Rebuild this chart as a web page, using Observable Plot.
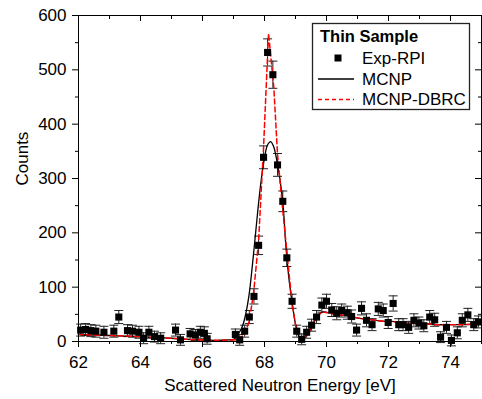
<!DOCTYPE html>
<html><head><meta charset="utf-8">
<script src="https://cdn.jsdelivr.net/npm/d3@7"></script>
<script src="https://cdn.jsdelivr.net/npm/@observablehq/plot@0.6"></script>
<style>
body{margin:0;background:#fff;}
#wrap{position:relative;width:482px;height:399px;font-family:"Liberation Sans",Arial,sans-serif;}
</style></head><body><div id="wrap"></div>
<script>
// Experimental data (Exp-RPI)
const expEnergy = [62.07,62.23,62.40,62.56,62.82,63.14,63.30,63.58,63.74,63.95,64.10,64.27,64.45,64.65,65.13,65.29,65.60,65.77,65.93,66.06,66.15,
  67.06,67.20,67.36,67.51,67.66,67.81,67.97,68.10,68.27,68.42,68.59,68.72,68.89,69.04,69.20,69.36,69.52,69.68,69.85,70.00,70.17,70.33,70.49,70.67,70.81,70.97,
  71.13,71.29,71.47,71.67,71.83,71.99,72.15,72.33,72.47,72.65,72.82,72.98,73.14,73.33,73.49,73.68,73.87,74.03,74.22,74.38,74.56,74.75,74.90];
const expCounts = [21,22,20,19,17,19,45,20,19,17,6,17,9,6,21,3,14,12,17,15,5,
  13,3,19,45,83,177,339,532,491,325,258,154,74,19,4,17,30,45,67,74,58,52,57,53,46,21,
  61,39,31,60,57,35,70,31,31,26,39,34,29,45,40,8,26,2,16,39,49,31,36];
const expError = [11,11,11,11,11,11,12,11,11,11,10,11,10,10,11,10,10,10,11,12,10,
  10,10,11,12,14,17,21,25,25,21,19,16,13,11,10,11,11,12,13,13,12,12,12,12,12,11,
  12,12,11,12,12,11,14,11,11,11,12,11,11,12,12,10,11,10,11,12,12,11,11];
// MCNP simulation
const mcnpEnergy = [62.0,62.5,63.0,63.5,64.0,64.5,65.0,65.5,66.0,66.5,66.8,67.0,67.1,67.2,67.3,67.4,67.5,67.6,67.7,67.8,67.9,68.0,68.1,68.2,68.3,68.4,68.5,68.6,68.7,68.8,68.9,69.0,69.1,69.2,69.36,69.52,69.68,69.85,70.06,70.33,70.6,70.86,71.13,71.45,71.88,72.1,72.52,72.95,73.49,73.92,74.35,74.88,75.0];
const mcnpCounts = [13,12,11,10,9,7,6,4,3,2,3,4,9,18,30,52,85,135,192,250,300,338,362,368,358,332,298,250,168,110,68,32,11,4,11,26,45,54,53,49,48,45,42,40,37,37,34,34,31,31,31,32,32];
// MCNP-DBRC simulation
const dbrcEnergy = [62.0,62.5,63.0,63.5,64.0,64.5,65.0,65.5,66.0,66.5,67.0,67.2,67.36,67.51,67.65,67.81,67.97,68.13,68.30,68.42,68.58,68.74,68.88,69.04,69.2,69.36,69.52,69.68,69.85,70.06,70.33,70.6,70.86,71.13,71.45,71.88,72.1,72.52,72.95,73.49,73.92,74.35,74.88,75.0];
const dbrcCounts = [13,12,11,10,9,7,6,4,3,2,3,6,14,38,90,186,358,567,468,345,247,155,75,16,3,11,26,45,54,53,49,48,45,42,40,37,37,34,34,31,31,31,32,32];
// Axis ticks and labels
const xMajorTicks = [62,64,66,68,70,72,74];
const xMinorTicks = [63,65,67,69,71,73,75];
const yMajorTicks = [0,100,200,300,400,500,600];
const yMinorTicks = [50,150,250,350,450,550];
const xLabel = "Scattered Neutron Energy [eV]";
const yLabel = "Counts";
const legendTitle = "Thin Sample";
const legendLabels = ["Exp-RPI","MCNP","MCNP-DBRC"];

const exp = expEnergy.map((e,i)=>({e, c: expCounts[i], err: expError[i]}));
const mcnp = mcnpEnergy.map((e,i)=>({e, c: mcnpCounts[i]}));
const dbrc = dbrcEnergy.map((e,i)=>({e, c: dbrcCounts[i]}));

const W=482, H=399, mL=78, mR=1, mT=15, mB=58;
const innerW = W-mL-mR, innerH = H-mT-mB;
const capSymbol = {draw(ctx, size){const w = Math.sqrt(size/Math.PI); ctx.moveTo(-w,0); ctx.lineTo(w,0);}};
const font = "Liberation Sans, Arial, sans-serif";
const fs = 17;

const chart = Plot.plot({
  width: W, height: H, marginLeft: mL, marginRight: mR, marginTop: mT, marginBottom: mB,
  style: {fontFamily: font, fontSize: fs + "px", color: "#000", background: "#fff", overflow: "visible"},
  x: {domain: [62, 75], axis: null},
  y: {domain: [0, 600], axis: null},
  marks: [
    Plot.ruleX(exp, {x: "e", y1: d=>d.c-d.err, y2: d=>d.c+d.err, stroke: "#222", strokeWidth: 1}),
    Plot.dot(exp, {x: "e", y: d=>d.c+d.err, symbol: capSymbol, r: 4.5, stroke: "#222", fill: "none", strokeWidth: 1}),
    Plot.dot(exp, {x: "e", y: d=>d.c-d.err, symbol: capSymbol, r: 4.5, stroke: "#222", fill: "none", strokeWidth: 1}),
    Plot.line(mcnp, {x: "e", y: "c", stroke: "#000", strokeWidth: 1.3, curve: "catmull-rom"}),
    Plot.line(dbrc, {x: "e", y: "c", stroke: "#ff0000", strokeWidth: 1.5, strokeDasharray: "5,3"}),
    Plot.dot(exp, {x: "e", y: "c", symbol: "square", r: 4, fill: "#000", stroke: "none"}),
    Plot.frame({stroke: "#000", strokeWidth: 1}),
    Plot.axisX({ticks: xMajorTicks, tickSize: 6, tickPadding: 8, fontSize: fs, label: null}),
    Plot.axisX({ticks: xMinorTicks, tickSize: 3, tickFormat: () => "", label: null}),
    Plot.axisY({ticks: yMajorTicks, tickSize: 6, tickPadding: 6, fontSize: fs, label: null}),
    Plot.axisY({ticks: yMinorTicks, tickSize: 3, tickFormat: () => "", label: null}),
    Plot.ruleX(xMajorTicks, {x: d=>d, insetBottom: innerH-6, stroke: "#000"}),
    Plot.ruleX(xMinorTicks, {x: d=>d, insetBottom: innerH-4, stroke: "#000"}),
    Plot.ruleY(yMajorTicks, {y: d=>d, insetLeft: innerW-6, stroke: "#000"}),
    Plot.ruleY(yMinorTicks, {y: d=>d, insetLeft: innerW-3, stroke: "#000"}),
    Plot.text([xLabel], {text: d=>d, frameAnchor: "bottom", dy: 49, fontSize: fs, fill: "#000"}),
    Plot.text([yLabel], {text: d=>d, frameAnchor: "left", dx: -56, dy: 7, rotate: -90, fontSize: fs, fill: "#000"})
  ]
});
const wrap = document.getElementById("wrap");
wrap.appendChild(chart);

// Legend overlay
const leg = d3.select(wrap).append("svg")
  .attr("width", W).attr("height", H)
  .style("position", "absolute").style("left", "0px").style("top", "0px")
  .style("font-family", font).style("font-size", fs + "px");
leg.append("rect").attr("x", 312.5).attr("y", 23.5).attr("width", 157).attr("height", 86)
  .attr("fill", "#fff").attr("stroke", "#222").attr("stroke-width", 1.3);
leg.append("text").attr("x", 320).attr("y", 42).attr("font-weight", "bold").style("font-size", "16.5px").text(legendTitle);
leg.append("rect").attr("x", 334.5).attr("y", 54.5).attr("width", 7).attr("height", 7).attr("fill", "#000");
leg.append("line").attr("x1", 318).attr("x2", 354).attr("y1", 79).attr("y2", 79).attr("stroke", "#000").attr("stroke-width", 1.3);
leg.append("line").attr("x1", 318).attr("x2", 354).attr("y1", 99.5).attr("y2", 99.5).attr("stroke", "#ff0000").attr("stroke-width", 1.5).attr("stroke-dasharray", "4,3");
const ly = [63.5, 85, 104.5];
legendLabels.forEach((t,i)=> leg.append("text").attr("x", 362).attr("y", ly[i]).text(t));
</script></body></html>
